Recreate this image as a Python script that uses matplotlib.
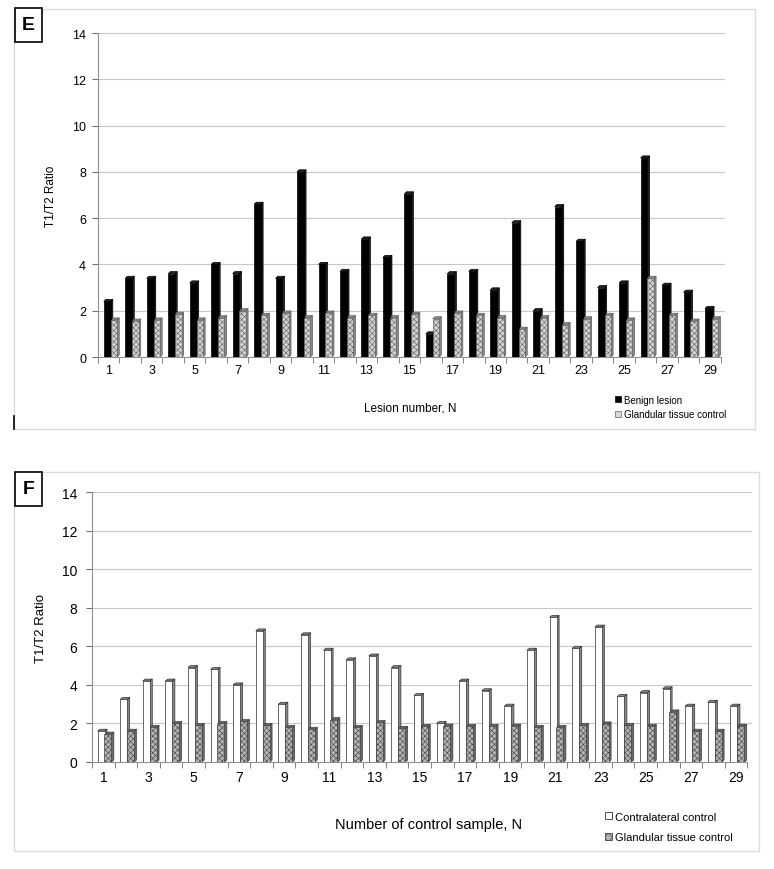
import matplotlib
matplotlib.use('Agg')
import matplotlib.pyplot as plt
from matplotlib.patches import Polygon, Rectangle, Patch
from matplotlib.lines import Line2D

plt.rcParams['font.family'] = ['Liberation Sans', 'DejaVu Sans']
plt.rcParams['hatch.linewidth'] = 0.4

# Panel E: benign lesions vs glandular tissue control
lesion_numbers = list(range(1, 30))
benign_lesion = [2.4, 3.4, 3.4, 3.6, 3.2, 4.0, 3.6, 6.6, 3.4, 8.0,
                 4.0, 3.7, 5.1, 4.3, 7.05, 1.0, 3.6, 3.7, 2.9, 5.8,
                 2.0, 6.5, 5.0, 3.0, 3.2, 8.6, 3.1, 2.8, 2.1]
glandular_e = [1.6, 1.55, 1.6, 1.85, 1.6, 1.7, 2.0, 1.8, 1.9, 1.7,
               1.9, 1.7, 1.8, 1.7, 1.85, 1.65, 1.9, 1.8, 1.7, 1.2,
               1.7, 1.4, 1.65, 1.8, 1.6, 3.4, 1.8, 1.55, 1.65]

# Panel F: contralateral control vs glandular tissue control
sample_numbers = list(range(1, 30))
contralateral = [1.6, 3.25, 4.2, 4.2, 4.9, 4.8, 4.0, 6.8, 3.0, 6.6,
                 5.8, 5.3, 5.5, 4.9, 3.45, 2.0, 4.2, 3.7, 2.9, 5.8,
                 7.5, 5.9, 7.0, 3.4, 3.6, 3.8, 2.9, 3.1, 2.9]
glandular_f = [1.45, 1.6, 1.8, 2.0, 1.9, 2.0, 2.1, 1.9, 1.8, 1.7,
               2.2, 1.8, 2.05, 1.75, 1.85, 1.87, 1.85, 1.85, 1.87, 1.8,
               1.8, 1.9, 1.98, 1.9, 1.86, 2.6, 1.6, 1.6, 1.86]

y_ticks = [0, 2, 4, 6, 8, 10, 12, 14]
x_labels = [str(n) for n in range(1, 30, 2)]


def bar3d(ax, xs, heights, width, face, side, edge, hatch=None, depth=0.1, rise=0.09):
    # cheap excel-style 3d bar: side face + top face + front face
    for x, h in zip(xs, heights):
        x0, x1 = x - width / 2, x + width / 2
        ax.add_patch(Polygon([(x1, 0), (x1 + depth, rise), (x1 + depth, h + rise), (x1, h)],
                             closed=True, facecolor=side, edgecolor=edge, lw=0.5, zorder=2))
        ax.add_patch(Polygon([(x0, h), (x0 + depth, h + rise), (x1 + depth, h + rise), (x1, h)],
                             closed=True, facecolor=side, edgecolor=edge, lw=0.5, zorder=2))
    ax.bar(xs, heights, width, color=face, edgecolor=edge, hatch=hatch, lw=0.5, zorder=3)


def style_axis(ax, n, tick_fs, xpad, ypad):
    ax.set_xlim(-0.5, n - 0.3)
    ax.set_ylim(0, 14)
    ax.set_yticks(y_ticks)
    ax.yaxis.grid(True, color='#c8c8c8', lw=0.8)
    ax.set_axisbelow(True)
    for s in ['top', 'right']:
        ax.spines[s].set_visible(False)
    ax.spines['left'].set_color('#909090')
    ax.spines['bottom'].set_color('#909090')
    ax.spines['bottom'].set_bounds(-0.5, n - 0.5)
    ax.set_xticks(range(0, n, 2))
    ax.set_xticklabels(x_labels)
    ax.set_xticks([i - 0.5 for i in range(n + 1)], minor=True)
    ax.tick_params(axis='x', which='major', length=0, pad=xpad, labelsize=tick_fs)
    ax.tick_params(axis='x', which='minor', length=4, color='#707070', direction='out')
    ax.tick_params(axis='y', length=4, color='#707070', pad=ypad, labelsize=tick_fs)


fig = plt.figure(figsize=(7.74, 8.70), dpi=100)

# panel frames
fig.patches.append(Rectangle((0.018, 0.5057), 0.9575, 0.4828, transform=fig.transFigure,
                             fill=False, edgecolor='#dcdcdc', lw=1))
fig.patches.append(Rectangle((0.018, 0.0207), 0.9626, 0.4356, transform=fig.transFigure,
                             fill=False, edgecolor='#dcdcdc', lw=1))
fig.lines.append(Line2D([0.018, 0.018], [0.5057, 0.5207], transform=fig.transFigure,
                        color='black', lw=1.2))

# ---- E ----
axE = fig.add_axes([0.1266, 0.5885, 0.8101, 0.3724])
xe = list(range(len(lesion_numbers)))
bar3d(axE, [x - 0.07 for x in xe], benign_lesion, 0.32, 'black', '#202020', 'black',
      depth=0.1, rise=0.09)
bar3d(axE, [x + 0.24 for x in xe], glandular_e, 0.30, '#d2d2d2', '#8a8a8a', '#606060',
      hatch='xxxxxx', depth=0.1, rise=0.09)
style_axis(axE, len(lesion_numbers), 9, 5, 4.5)
axE.set_ylabel('T1/T2 Ratio', fontsize=8.5, labelpad=11)
fig.text(0.530, 1 - 409 / 870, 'Lesion number, N', fontsize=8.5, ha='center', va='center')

leg_e = [Patch(facecolor='black', edgecolor='black', lw=0.5),
         Patch(facecolor='#d8d8d8', edgecolor='#606060', lw=0.5)]
fig.legend(leg_e, ['Benign lesion', 'Glandular tissue control'], loc='center left',
           bbox_to_anchor=(0.795, 1 - 408 / 870), frameon=False, fontsize=7,
           handlelength=0.6, handleheight=0.6, handletextpad=0.3, labelspacing=0.45,
           borderpad=0, borderaxespad=0)

fig.patches.append(Rectangle((0.0194, 1 - 43 / 870), 27 / 774, 34 / 870, transform=fig.transFigure,
                             fill=True, facecolor='white', edgecolor='black', lw=1.2))
fig.text(0.0194 + 13.5 / 774, 1 - 26 / 870, 'E', fontsize=14, fontweight='bold',
         ha='center', va='center')

# ---- F ----
axF = fig.add_axes([0.1189, 0.1230, 0.8527, 0.3103])
xf = list(range(len(sample_numbers)))
bar3d(axF, [x - 0.1 for x in xf], contralateral, 0.31, 'white', '#8a8a8a', '#303030',
      depth=0.11, rise=0.1)
bar3d(axF, [x + 0.2 for x in xf], glandular_f, 0.31, '#b4b4b4', '#6a6a6a', '#404040',
      hatch='xxxxxx', depth=0.11, rise=0.1)
style_axis(axF, len(sample_numbers), 10, 6, 6.5)
axF.set_ylabel('T1/T2 Ratio', fontsize=9.5, labelpad=11)
fig.text(0.554, 1 - 825 / 870, 'Number of control sample, N', fontsize=10.5,
         ha='center', va='center')

leg_f = [Patch(facecolor='white', edgecolor='#303030', lw=0.6),
         Patch(facecolor='#b4b4b4', edgecolor='#404040', lw=0.6, hatch='xxxx')]
fig.legend(leg_f, ['Contralateral control', 'Glandular tissue control'], loc='center left',
           bbox_to_anchor=(0.782, 1 - 828 / 870), frameon=False, fontsize=8,
           handlelength=0.6, handleheight=0.6, handletextpad=0.3, labelspacing=0.95,
           borderpad=0, borderaxespad=0)

fig.patches.append(Rectangle((0.0194, 1 - 507 / 870), 27 / 774, 34 / 870, transform=fig.transFigure,
                             fill=True, facecolor='white', edgecolor='black', lw=1.2))
fig.text(0.0194 + 13.5 / 774, 1 - 490 / 870, 'F', fontsize=14, fontweight='bold',
         ha='center', va='center')

fig.savefig('out.png', dpi=100)
